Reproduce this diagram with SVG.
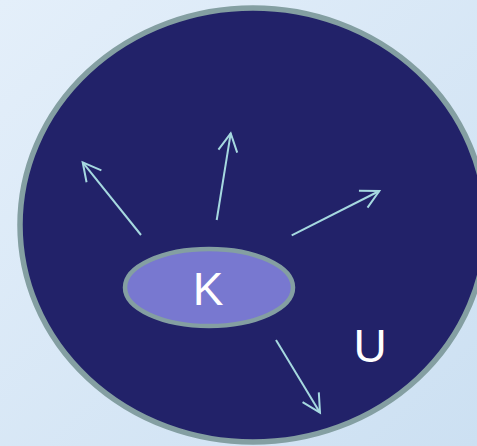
<svg xmlns="http://www.w3.org/2000/svg" width="477" height="446" viewBox="0 0 477 446">
  <defs>
    <linearGradient id="bg" x1="0" y1="0" x2="1" y2="1">
      <stop offset="0" stop-color="#E4EFFA"/>
      <stop offset="1" stop-color="#CCE0F2"/>
    </linearGradient>
    <marker id="ah" markerWidth="24" markerHeight="24" refX="20" refY="12" orient="auto" markerUnits="userSpaceOnUse" viewBox="0 0 24 24" overflow="visible">
      <path d="M2,2.5 L20,12 L2,21.5" fill="none" stroke="#A6D9E0" stroke-width="2"/>
    </marker>
    <style>
      .lbl { font-family: "Liberation Sans", Arial, sans-serif; font-size: 46px; fill: #FFFFFF; text-anchor: middle; }
      .conn { fill: none; stroke: #A6D9E0; stroke-width: 2; marker-end: url(#ah); }
    </style>
  </defs>
  <rect x="0" y="0" width="477" height="446" fill="url(#bg)"/>
  <g id="node-U">
    <ellipse cx="253" cy="225" rx="233" ry="217" fill="#222269" stroke="#849FA2" stroke-width="5.5"/>
    <text class="lbl" x="370" y="362">U</text>
  </g>
  <g id="node-K">
    <ellipse cx="209" cy="287.5" rx="84" ry="38.5" fill="#7878D0" stroke="#849FA2" stroke-width="4.5"/>
    <text class="lbl" x="208" y="305">K</text>
  </g>
  <g id="connectors">
    <line class="conn" x1="141" y1="235" x2="82.7" y2="162.3"/>
    <line class="conn" x1="216.7" y1="220" x2="230.7" y2="133.3"/>
    <line class="conn" x1="291.7" y1="235.3" x2="379.3" y2="191"/>
    <line class="conn" x1="276" y1="340" x2="320" y2="412.7"/>
  </g>
</svg>
